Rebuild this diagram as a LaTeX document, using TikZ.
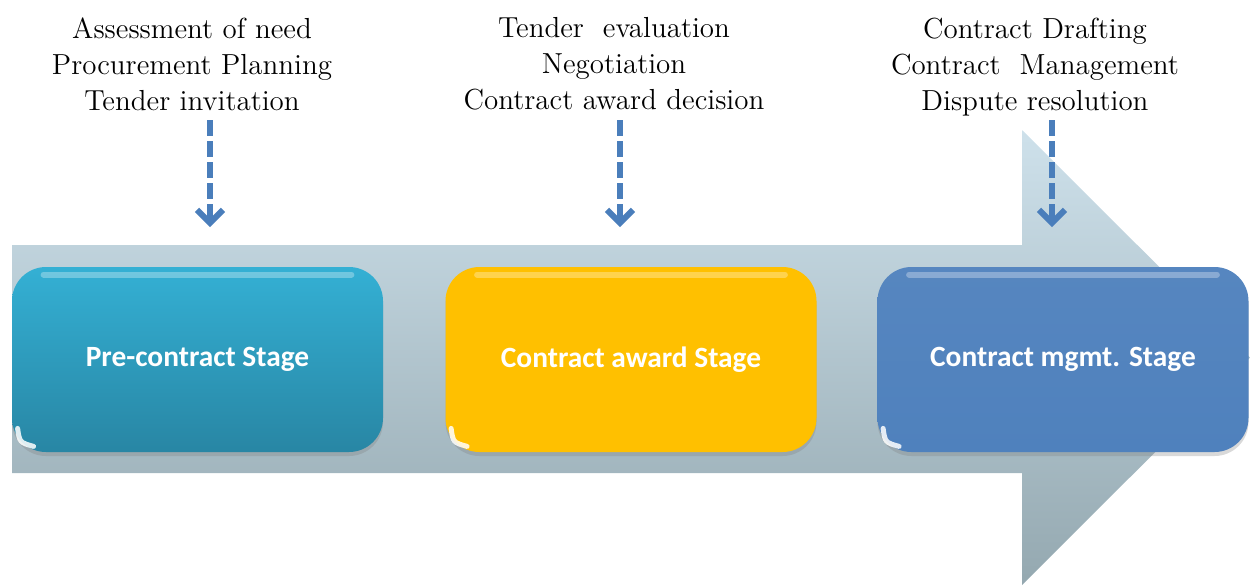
\documentclass[tikz,border=0pt]{standalone}
\usepackage{fontspec}
\newfontfamily\boxfont{Carlito}
\usetikzlibrary{arrows.meta,shadows}

\definecolor{arrowtop}{RGB}{206,225,235}
\definecolor{arrowbot}{RGB}{148,168,176}
\definecolor{tealtop}{RGB}{52,176,212}
\definecolor{tealbot}{RGB}{40,134,164}
\definecolor{goldbox}{RGB}{255,192,0}
\definecolor{bluebox}{RGB}{79,129,189}
\definecolor{dashblue}{RGB}{74,126,187}

\tikzset{
  stagebox/.style={rounded corners=17pt, minimum width=185.5pt, minimum height=92.5pt,
    inner sep=0pt, text=white, font=\boxfont\bfseries\fontsize{14.7}{17}\selectfont,
    drop shadow={shadow xshift=0pt, shadow yshift=-2pt, opacity=0.3}},
  tasklist/.style={align=center, font=\fontsize{14.5}{18}\selectfont},
  dasharrow/.style={dashblue, line width=3pt, dash pattern=on 8pt off 2.5pt,
    -{Straight Barb[length=6.5pt,width=13pt]}},
}

\begin{document}
\begin{tikzpicture}[x=0.5pt,y=0.5pt,yscale=-1]
\useasboundingbox (0,0) rectangle (1250,585);

%Shape: big process arrow
\shade[top color=arrowtop, bottom color=arrowbot] (12,245) -- (1022,245) -- (1022,130) -- (1250,357.5) -- (1022,585) -- (1022,473) -- (12,473) -- cycle;

%Stage boxes
\node[stagebox, top color=tealtop, bottom color=tealbot] (pre) at (197.5,359.5) {Pre-contract Stage};
\node[stagebox, fill=goldbox] (award) at (631,359.5) {Contract award Stage};
\node[stagebox, top color=bluebox!96!white, bottom color=bluebox] (mgmt) at (1063,359.5) {Contract mgmt. Stage};

%gloss on the boxes (yshift is flipped by yscale=-1)
\foreach \b in {pre,award,mgmt}{
  \draw[white, opacity=0.3, line width=3pt, line cap=round] ([xshift=16pt,yshift=4pt]\b.north west) -- ([xshift=-16pt,yshift=4pt]\b.north east);
  \draw[white, opacity=0.85, line width=2.5pt, line cap=round] ([xshift=3pt,yshift=-12pt]\b.south west) .. controls ([xshift=4pt,yshift=-5pt]\b.south west) .. ([xshift=11pt,yshift=-3pt]\b.south west);
}

% Text Node
\node[tasklist] (need) at (192,64) {Assessment of need\\Procurement Planning\\Tender invitation};
% Text Node
\node[tasklist] (eval) at (614,64) {Tender\ \ evaluation\\Negotiation\\Contract award decision};
% Text Node
\node[tasklist] (draft) at (1035,67) {Contract Drafting\\Contract\ \ Management\\Dispute resolution};

%dashed pointers
\coordinate (p1) at (210,120); \coordinate (q1) at (210,227);
\coordinate (p2) at (620,120); \coordinate (q2) at (620,227);
\coordinate (p3) at (1052,120); \coordinate (q3) at (1052,227);
\foreach \i in {1,2,3}
  \draw[dasharrow] (p\i) -- (q\i);

\end{tikzpicture}
\end{document}
